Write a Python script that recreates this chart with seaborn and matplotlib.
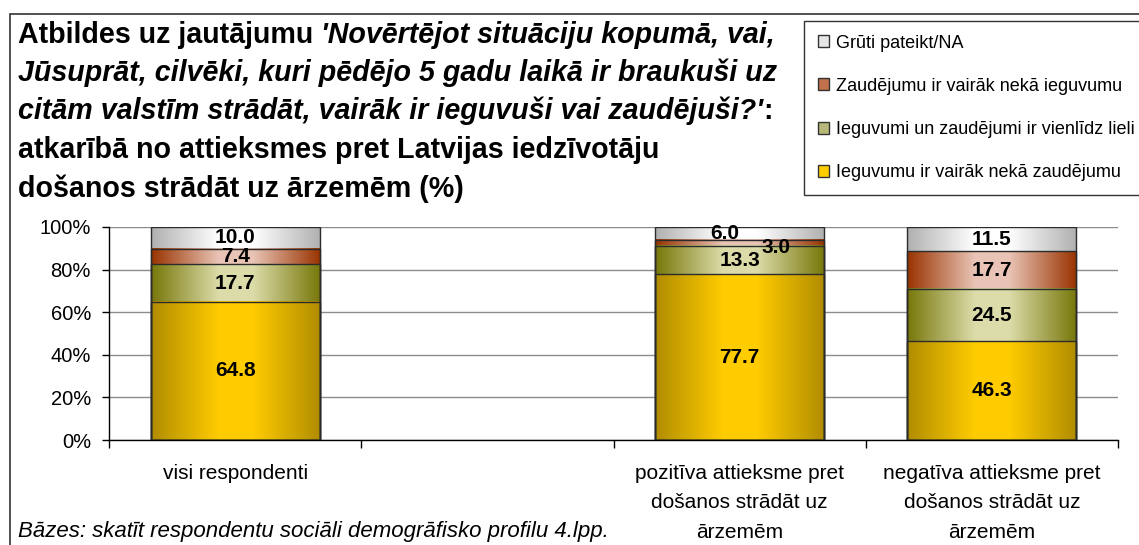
import numpy as np
import pandas as pd
import matplotlib
matplotlib.use("Agg")
import matplotlib.pyplot as plt
from matplotlib.patches import Rectangle, Patch
from matplotlib.colors import to_rgb
import seaborn as sns

# --- data ---
groups = ["visi respondenti",
          "pozitīva attieksme pret\ndošanos strādāt uz\nārzemēm",
          "negatīva attieksme pret\ndošanos strādāt uz\nārzemēm"]
axis_order = [groups[0], " ", groups[1], groups[2]]   # empty slot between first and second bar

series = ["Ieguvumu ir vairāk nekā zaudējumu",
          "Ieguvumi un zaudējumi ir vienlīdz lieli",
          "Zaudējumu ir vairāk nekā ieguvumu",
          "Grūti pateikt/NA"]
ieguvumu_vairak = [64.8, 77.7, 46.3]
vienlidz = [17.7, 13.3, 24.5]
zaudejumu_vairak = [7.4, 3.0, 17.7]
gruti_pateikt = [10.0, 6.0, 11.5]

# gradient colours per series: (edge, centre)
grad_cols = {series[0]: ("#b08c00", "#ffcc00"),
             series[1]: ("#77770a", "#dcdcaa"),
             series[2]: ("#993300", "#e9c4b6"),
             series[3]: ("#b0b0b0", "#ffffff")}
legend_cols = {series[0]: "#ffcc00", series[1]: "#b8b87a",
               series[2]: "#c0704a", series[3]: "#e6e6e6"}
# label nudges (points) where Excel pushed overlapping labels aside
nudge = {(groups[1], series[3]): (-11, 0), (groups[1], series[2]): (26, -3)}

df = pd.DataFrame({
    "group": groups * 4,
    "series": np.repeat(series, 3),
    "value": ieguvumu_vairak + vienlidz + zaudejumu_vairak + gruti_pateikt,
})
df["top"] = df.groupby("group", sort=False)["value"].cumsum()
df["bottom"] = df["top"] - df["value"]

sns.set_theme(style="white")
plt.rcParams["font.family"] = ["Liberation Sans", "DejaVu Sans"]
plt.rcParams.update({"text.color": "black", "xtick.color": "black", "ytick.color": "black",
                     "axes.labelcolor": "black"})

W, H = 1139, 545
fig = plt.figure(figsize=(W / 100, H / 100), dpi=100)
ax = fig.add_axes([109 / W, 1 - 440 / H, (1118 - 109) / W, (440 - 227) / H])


def gradient(edge, centre, n=256):
    e, c = np.array(to_rgb(edge)), np.array(to_rgb(centre))
    t = np.linspace(0, 1, n)
    w = 1 - np.abs(2 * t - 1)
    w = np.clip(w * 1.25, 0, 1)
    return (e[None, :] + (c - e)[None, :] * w[:, None])[None, :, :]


# draw cumulative stacks from the top layer down so lower layers overlay
for s in reversed(series):
    sub = df[df["series"] == s]
    n0 = len(ax.patches)
    sns.barplot(data=sub, x="group", y="top", order=axis_order, color="white",
                width=0.67, errorbar=None, edgecolor="#2b2b2b", linewidth=1.0, ax=ax)
    for p in ax.patches[n0:]:
        p.set_facecolor("none")
        p.set_zorder(3)
        cx = p.get_x() + p.get_width() / 2
        g = axis_order[int(round(cx))]
        row = sub[sub["group"] == g].iloc[0]
        ax.imshow(gradient(*grad_cols[s]), extent=(p.get_x(), p.get_x() + p.get_width(),
                                                   row["bottom"], row["top"]),
                  aspect="auto", interpolation="bilinear", zorder=2)

for _, r in df.iterrows():
    cx = axis_order.index(r["group"])
    dx, dy = nudge.get((r["group"], r["series"]), (0, 0))
    ax.annotate(f"{r['value']:.1f}", (cx, r["bottom"] + r["value"] / 2),
                xytext=(dx, dy), textcoords="offset points", ha="center", va="center",
                fontsize=15, fontweight="bold", color="black", zorder=5)

ax.set_xlim(-0.5, 3.5)
ax.set_ylim(0, 100)
ax.set_yticks(range(0, 101, 20))
ax.set_yticklabels([f"{v}%" for v in range(0, 101, 20)], fontsize=14.5)
ax.set_xticks(range(4))
ax.set_xticklabels(axis_order, fontsize=15, linespacing=1.72, va="top")
ax.set_xticks(np.arange(-0.5, 4, 1), minor=True)
ax.tick_params(axis="x", which="major", length=0, pad=17)
ax.tick_params(axis="x", which="minor", length=6, width=1, color="black", direction="out", bottom=True)
ax.tick_params(axis="y", length=5, width=1, color="black", direction="out", left=True, pad=8)
ax.set_xlabel("")
ax.set_ylabel("")
ax.yaxis.grid(True, color="#8c8c8c", lw=1)
ax.set_axisbelow(True)
for side in ["top", "right"]:
    ax.spines[side].set_visible(False)
for side in ["left", "bottom"]:
    ax.spines[side].set_color("black")
    ax.spines[side].set_linewidth(1)

# outer frame of the whole chart
fig.add_artist(Rectangle((10 / W, -0.05), 1.1, 1 - 14 / H + 0.05, transform=fig.transFigure,
                         fill=False, ec="#333333", lw=1.2, zorder=0))

# legend
handles = [Patch(facecolor=legend_cols[s], edgecolor="#333333", lw=1) for s in reversed(series)]
fig.legend(handles, list(reversed(series)), loc="upper left",
           bbox_to_anchor=(804 / W, 1 - 21 / H), fontsize=13, frameon=True, fancybox=False,
           edgecolor="#333333", framealpha=1, handlelength=0.65, handleheight=0.65,
           handletextpad=0.4, labelspacing=1.45, borderpad=0.75, borderaxespad=0)

# title: mixed bold / bold-italic runs
renderer = fig.canvas.get_renderer()
title_lines = [
    [("Atbildes uz jautājumu ", "normal"), ("'Novērtējot situāciju kopumā, vai,", "italic")],
    [("Jūsuprāt, cilvēki, kuri pēdējo 5 gadu laikā ir braukuši uz", "italic")],
    [("citām valstīm strādāt, vairāk ir ieguvuši vai zaudējuši?'", "italic"), (":", "normal")],
    [("atkarībā no attieksmes pret Latvijas iedzīvotāju", "normal")],
    [("došanos strādāt uz ārzemēm (%)", "normal")],
]
line_y = [35, 73, 111, 150, 189]
for runs, y in zip(title_lines, line_y):
    x = 18
    for txt, style in runs:
        t = fig.text(x / W, 1 - y / H, txt, fontsize=20.6, fontweight="bold", fontstyle=style,
                     ha="left", va="center")
        x = t.get_window_extent(renderer).x1

fig.text(18 / W, 1 - 532 / H, "Bāzes: skatīt respondentu sociāli demogrāfisko profilu 4.lpp.",
         fontsize=16, fontstyle="italic", ha="left", va="center")

fig.savefig("out.png", dpi=100)
